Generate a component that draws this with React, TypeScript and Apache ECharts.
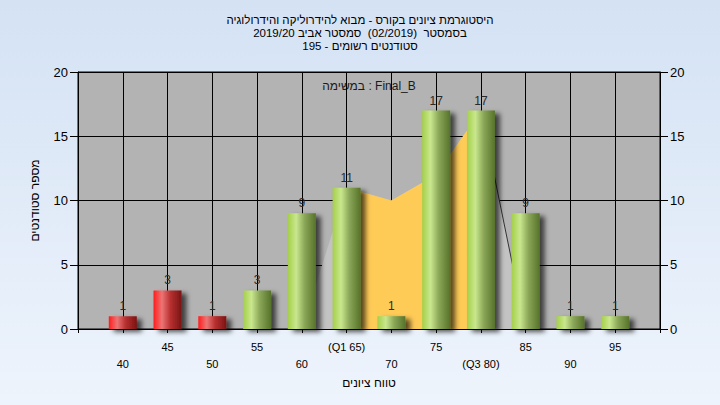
import React, { useEffect, useRef } from "react";
import * as echarts from "echarts";

const titleLines = [
  "היסטוגרמת ציונים בקורס - מבוא להידרוליקה והידרולוגיה",
  "בסמסטר  (02/2019)  סמסטר אביב 2019/20",
  "סטודנטים רשומים - 195",
];
const taskLabel = "במשימה : Final_B";
const xAxisName = "טווח ציונים";
const yAxisName = "מספר סטודנטים";

const categories = [40, 45, 50, 55, 60, 65, 70, 75, 80, 85, 90, 95];
const counts = [1, 3, 1, 3, 9, 11, 1, 17, 17, 9, 1, 1];
const failingBelow = 55;

const tickValues = [40, 45, 50, 55, 60, 65, 70, 75, 80, 85, 90, 95];
const tickLabels = ["40", "45", "50", "55", "60", "(Q1 65)", "70", "75", "(Q3 80)", "85", "90", "95"];

const spreadX = [60, 65, 70, 75, 80, 85];
const spreadY = [0, 11, 10, 12, 17, 0];
const iqrX = [65, 70, 75, 80];
const iqrY = [11, 10, 12, 17];
const tailX = [80, 85];
const tailY = [17, 0];

const FONT = "Liberation Sans, Arial, DejaVu Sans, sans-serif";

const redGrad = new echarts.graphic.LinearGradient(0, 0, 1, 0, [
  { offset: 0, color: "#FF1C1C" },
  { offset: 0.3, color: "#EC7575" },
  { offset: 0.6, color: "#B83030" },
  { offset: 1, color: "#7A1414" },
]);
const greenGrad = new echarts.graphic.LinearGradient(0, 0, 1, 0, [
  { offset: 0, color: "#A4CF48" },
  { offset: 0.3, color: "#C9E78E" },
  { offset: 0.6, color: "#8AA657" },
  { offset: 1, color: "#56732A" },
]);

export default function App() {
  const ref = useRef<HTMLDivElement>(null);
  useEffect(() => {
    if (!ref.current) return;
    const chart = echarts.init(ref.current, undefined, { renderer: "svg" });
    const pair = (xs: number[], ys: number[]) => xs.map((x, i) => [x, ys[i]]);
    chart.setOption({
      animation: false,
      backgroundColor: new echarts.graphic.LinearGradient(0, 0, 0, 1, [
        { offset: 0, color: "#D4E2F4" },
        { offset: 1, color: "#EEF4FC" },
      ]),
      textStyle: { fontFamily: FONT },
      title: {
        text: titleLines.join("\n"),
        left: "center",
        top: 8,
        textStyle: { fontSize: 11.5, lineHeight: 13, fontWeight: "normal", color: "#000", fontFamily: FONT },
      },
      graphic: [
        {
          type: "text",
          x: 369,
          y: 80,
          style: { text: taskLabel, fontSize: 12, fill: "#1a1a1a", align: "center", fontFamily: FONT },
        },
      ],
      grid: {
        left: 78,
        right: 60,
        top: 72,
        bottom: 76,
        show: true,
        backgroundColor: "#B3B3B3",
        borderColor: "#000",
        borderWidth: 1,
      },
      xAxis: {
        type: "value",
        min: 35,
        max: 100,
        interval: 5,
        name: xAxisName,
        nameLocation: "middle",
        nameGap: 44,
        nameTextStyle: { fontSize: 12, color: "#000", fontFamily: FONT },
        axisLine: { show: true, lineStyle: { color: "#000", width: 1 } },
        axisTick: { show: true, length: 4, lineStyle: { color: "#000" } },
        splitLine: { show: true, lineStyle: { color: "#000", width: 1 } },
        axisLabel: {
          fontSize: 11,
          color: "#000",
          lineHeight: 17,
          margin: 9,
          fontFamily: FONT,
          formatter: (v: number) => {
            const idx = tickValues.indexOf(v);
            if (idx < 0) return "";
            return idx % 2 === 0 ? "\n" + tickLabels[idx] : tickLabels[idx];
          },
        },
      },
      yAxis: [
        {
          type: "value",
          min: 0,
          max: 20,
          interval: 5,
          name: yAxisName,
          nameLocation: "middle",
          nameGap: 37,
          nameRotate: 90,
          nameTextStyle: { fontSize: 12, color: "#000", fontFamily: FONT },
          axisLine: { show: true, lineStyle: { color: "#000" } },
          axisTick: { show: true, length: 8, lineStyle: { color: "#000" } },
          splitLine: { show: true, lineStyle: { color: "#000", width: 1 } },
          axisLabel: { fontSize: 13, color: "#000", margin: 10, fontFamily: FONT },
        },
        {
          type: "value",
          position: "right",
          min: 0,
          max: 20,
          interval: 5,
          axisLine: { show: true, lineStyle: { color: "#000" } },
          axisTick: { show: true, length: 8, lineStyle: { color: "#000" } },
          splitLine: { show: false },
          axisLabel: { fontSize: 13, color: "#000", margin: 10, fontFamily: FONT },
        },
      ],
      series: [
        {
          type: "line",
          data: pair(spreadX, spreadY),
          symbol: "none",
          lineStyle: { width: 0 },
          areaStyle: { color: "#C3C3C3", opacity: 1 },
          z: 1,
        },
        {
          type: "line",
          data: pair(iqrX, iqrY),
          symbol: "none",
          lineStyle: { width: 0 },
          areaStyle: { color: "#FFCB57", opacity: 1 },
          z: 2,
        },
        {
          type: "line",
          data: pair(tailX, tailY),
          symbol: "none",
          lineStyle: { width: 1, color: "#333" },
          z: 3,
        },
        {
          type: "bar",
          barWidth: 28,
          z: 5,
          data: categories.map((c, i) => ({
            value: [c, counts[i]],
            itemStyle: { color: c < failingBelow ? redGrad : greenGrad },
          })),
          itemStyle: {
            shadowColor: "rgba(0,0,0,0.65)",
            shadowBlur: 5,
            shadowOffsetX: 5,
            shadowOffsetY: 3,
          },
          label: {
            show: true,
            position: "top",
            distance: 4,
            fontSize: 12,
            color: "#2a2a2a",
            fontFamily: FONT,
            formatter: (p: any) => String(p.value[1]),
          },
        },
      ],
    });
    return () => chart.dispose();
  }, []);
  return (
    <div
      ref={ref}
      style={{ position: "fixed", left: 0, top: 0, width: 720, height: 405 }}
    />
  );
}
